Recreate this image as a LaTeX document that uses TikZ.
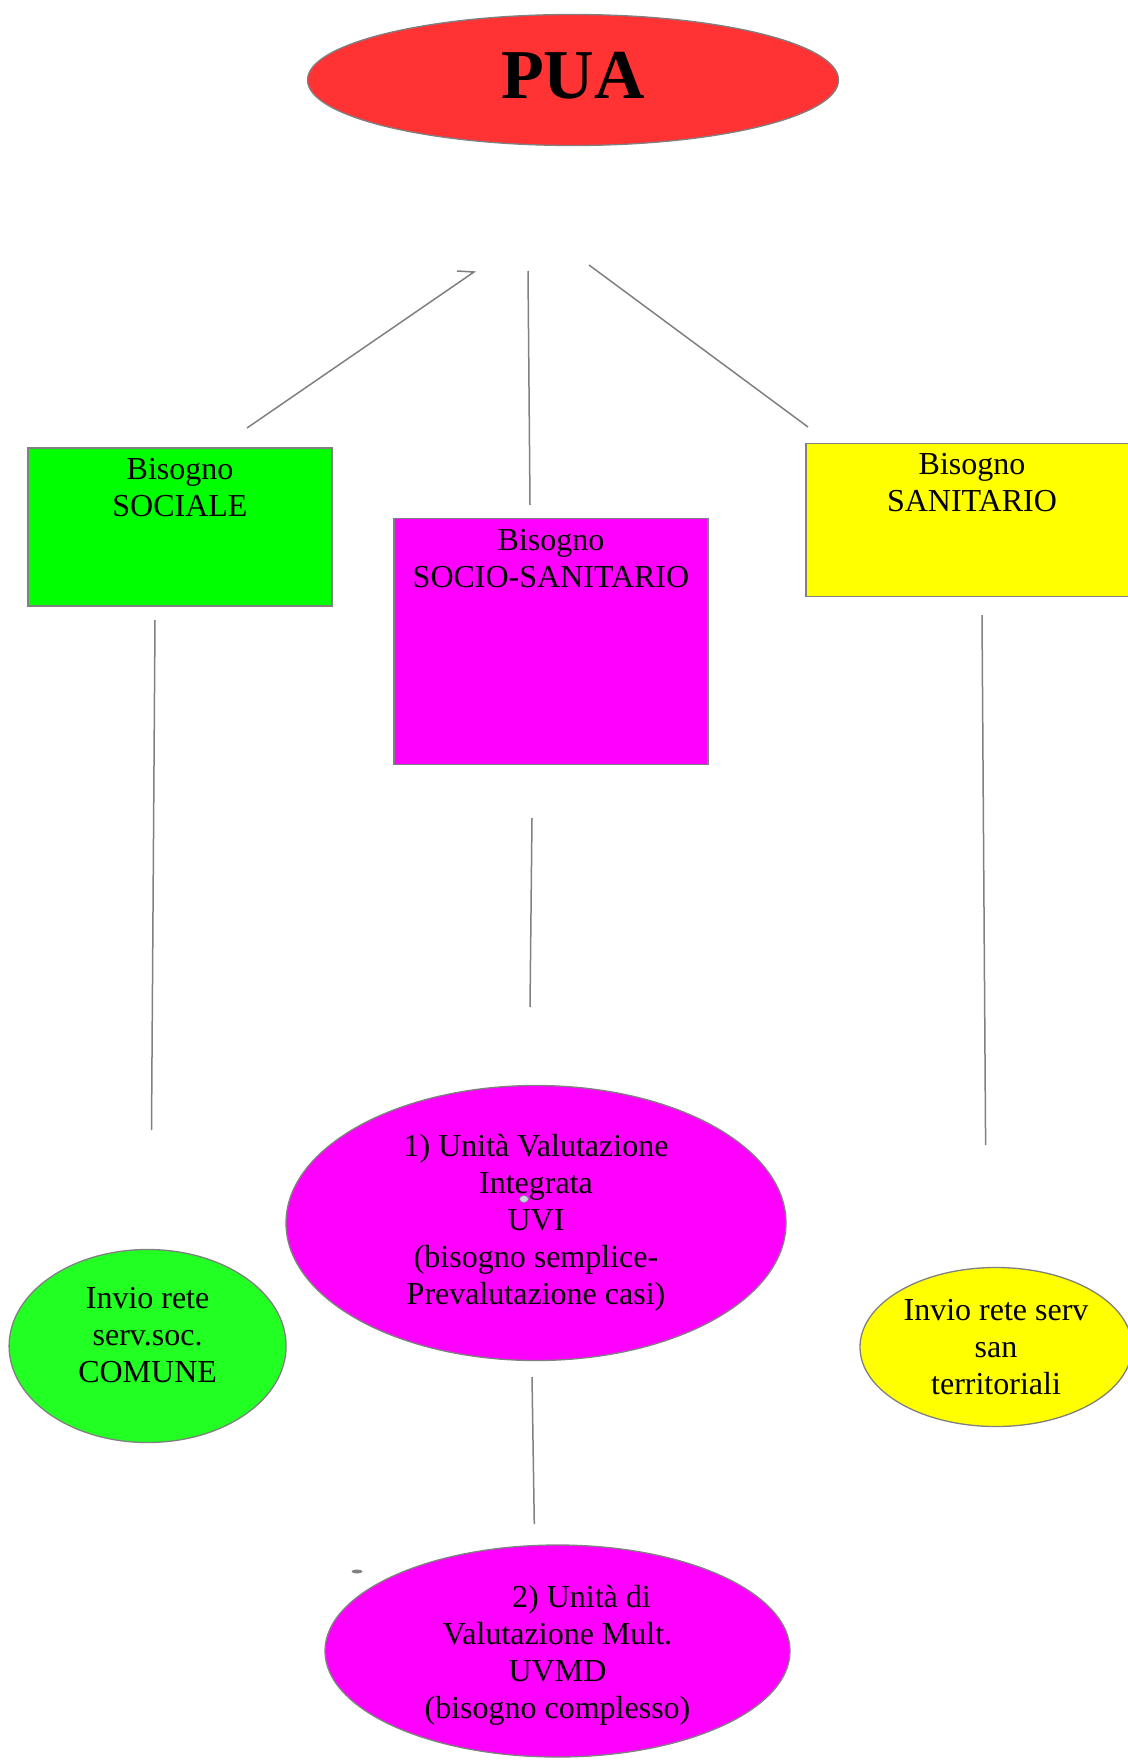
\documentclass[tikz,border=0pt]{standalone}
\usepackage{fontspec}
\setmainfont{Liberation Serif}
\usetikzlibrary{positioning, shapes.geometric}
\definecolor{puared}{RGB}{255, 51, 51}
\definecolor{socgreen}{RGB}{0, 255, 0}
\definecolor{comgreen}{RGB}{34, 255, 34}
\definecolor{sanyellow}{RGB}{255, 255, 0}
\definecolor{sosmagenta}{RGB}{255, 0, 255}
\definecolor{edgegray}{RGB}{128, 128, 128}
\definecolor{dotblue}{RGB}{200, 214, 226}
\tikzset{
  box/.style={draw=edgegray, line width=1.3pt, rectangle, inner sep=0pt},
  lbl/.style={align=center, inner sep=0pt, font=\fontsize{32}{37}\selectfont},
  oval/.style={draw=edgegray, line width=1.3pt, ellipse, inner sep=0pt, align=center, font=\fontsize{32}{37}\selectfont},
  link/.style={edgegray, line width=1.5pt}
}

\begin{document}
\begin{tikzpicture}[x=1pt, y=-1pt]
  \useasboundingbox (0,0) rectangle (1127,1760);
  % vertice
  \node[oval, fill=puared, minimum width=531pt, minimum height=131pt] (pua) at (573,80) {};
  \node[lbl, font=\fontsize{70}{70}\selectfont\bfseries, yshift=4.5pt] (puatxt) at (pua) {PUA};
  % i tre bisogni
  \node[box, fill=socgreen, minimum width=304pt, minimum height=158pt] (sociale) at (180,527) {};
  \node[lbl, below=10.5pt of sociale.north] (socialetxt) {Bisogno\\SOCIALE};
  \node[box, fill=sosmagenta, minimum width=314pt, minimum height=246pt] (sociosan) at (551,641.5) {};
  \node[lbl, below=11.5pt of sociosan.north] (sociosantxt) {Bisogno\\SOCIO-SANITARIO};
  \node[box, fill=sanyellow, minimum width=332pt, minimum height=153pt] (sanitario) at (972,520) {};
  \node[lbl, below=10.5pt of sanitario.north] (sanitariotxt) {Bisogno\\SANITARIO};
  % valutazione e invii
  \node[oval, fill=comgreen, minimum width=277pt, minimum height=193pt] (comune) at (147.6,1346) {};
  \node[lbl, yshift=11pt] (comunetxt) at (comune) {Invio rete\\serv.soc.\\COMUNE};
  \node[oval, fill=sosmagenta, minimum width=500pt, minimum height=275pt] (uvi) at (536,1223) {1) Unità Valutazione\\Integrata\\UVI\\(bisogno semplice-\\Prevalutazione casi)};
  \node[oval, fill=sanyellow, minimum width=272pt, minimum height=159pt] (santerr) at (996,1347) {Invio rete serv\\san\\territoriali};
  \node[oval, fill=sosmagenta, minimum width=465pt, minimum height=212pt] (uvmd) at (557.5,1651) {};
  \node[lbl, yshift=-4.5pt] (uvmdtxt) at (uvmd) {\hspace*{1.5em}2) Unità di\\Valutazione Mult.\\UVMD\\(bisogno complesso)};
  % segni minori
  \node[ellipse, draw=edgegray, line width=0.6pt, fill=dotblue, minimum width=9pt, minimum height=7pt, inner sep=0pt] (uvidot) at (524,1199) {};
  \node[ellipse, fill=edgegray, minimum width=11pt, minimum height=4pt, inner sep=0pt] (uvmddot) at (357,1571.5) {};
  % estremi dei collegamenti
  \coordinate (puatick) at (457,271);
  \coordinate (pual) at (474,272);
  \coordinate (puam) at (528,271);
  \coordinate (puar) at (589,265);
  \coordinate (socialein) at (247,428);
  \coordinate (sociosanin) at (530,505);
  \coordinate (sanitarioin) at (808,427);
  \coordinate (socialeout) at (155,620);
  \coordinate (comunein) at (151.5,1130);
  \coordinate (sociosanout) at (532,818);
  \coordinate (uviin) at (530,1007);
  \coordinate (sanitarioout) at (982,615);
  \coordinate (santerrin) at (985.6,1145);
  \coordinate (uviout) at (532,1377);
  \coordinate (uvmdin) at (534.3,1524);
  \draw[link] (puatick) -- (pual) -- (socialein);
  \draw[link] (puam) -- (sociosanin);
  \draw[link] (puar) -- (sanitarioin);
  \draw[link] (socialeout) -- (comunein);
  \draw[link] (sociosanout) -- (uviin);
  \draw[link] (sanitarioout) -- (santerrin);
  \draw[link] (uviout) -- (uvmdin);
\end{tikzpicture}
\end{document}
